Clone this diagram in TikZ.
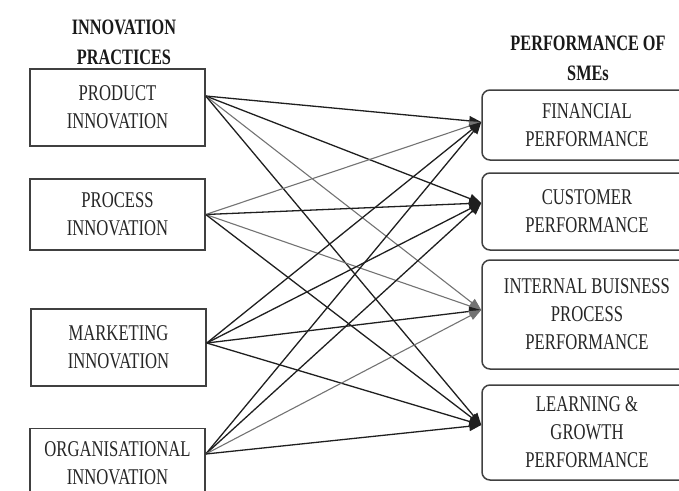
\documentclass[tikz,border=0pt]{standalone}
\usepackage{fontspec}
\setmainfont{Liberation Serif}[FakeStretch=0.74]
\usetikzlibrary{arrows.meta}
\begin{document}
\begin{tikzpicture}[x=1pt,y=-1pt,
  txt/.style={font=\fontsize{22.5}{28}\selectfont, align=center, text=black!85, inner sep=0pt},
  head/.style={font=\fontsize{22}{30}\selectfont\bfseries, align=center, text=black!90, inner sep=0pt},
  lbox/.style={txt, draw=black!75, line width=1.5pt, minimum width=175pt},
  rbox/.style={txt, draw=black!75, line width=1.5pt, rounded corners=8pt, minimum width=210pt},
  link/.style={line width=1.3pt, draw=black!88, -{Triangle[length=12pt,width=9.5pt]}},
  glink/.style={line width=1.1pt, draw=black!55, -{Triangle[length=12pt,width=9.5pt]}}
]
\useasboundingbox (0,0) rectangle (679,490);
% headings
\node[head] (h1) at (124,42) {INNOVATION\\PRACTICES};
\node[head] (h2) at (588,58) {PERFORMANCE OF\\SMEs};
% left boxes
\node[lbox, minimum height=77pt] (a1) at (117.5,107.5) {PRODUCT\\INNOVATION};
\node[lbox, minimum height=71pt] (a2) at (117.5,214.5) {PROCESS\\INNOVATION};
\node[lbox, minimum height=77pt] (a3) at (118.5,347.5) {MARKETING\\INNOVATION};
\node[lbox, minimum height=70pt] (a4) at (117.5,463.5) {ORGANISATIONAL\\INNOVATION};
% right boxes
\node[rbox, minimum height=70pt] (b1) at (587,125) {FINANCIAL\\PERFORMANCE};
\node[rbox, minimum height=77pt] (b2) at (587,211.5) {CUSTOMER\\PERFORMANCE};
\node[rbox, minimum height=109pt] (b3) at (587,314.5) {INTERNAL BUISNESS\\PROCESS\\PERFORMANCE};
\node[rbox, minimum height=95pt] (b4) at (587,432.5) {LEARNING \&\\GROWTH\\PERFORMANCE};
% connection points
\coordinate (s1) at ([yshift=11.5pt]a1.east);
\coordinate (s2) at (a2.east);
\coordinate (s3) at ([yshift=4.5pt]a3.east);
\coordinate (s4) at ([yshift=9.5pt]a4.east);
\coordinate (t1) at ([yshift=3pt]b1.west);
\coordinate (t2) at ([yshift=8.5pt]b2.west);
\coordinate (t3) at ([yshift=4.5pt]b3.west);
\coordinate (t4) at ([yshift=7.5pt]b4.west);
% connectors
\draw[link] (s1) -- (t1);
\draw[link] (s1) -- (t2);
\draw[glink] (s1) -- (t3);
\draw[link] (s1) -- (t4);
\draw[glink] (s2) -- (t1);
\draw[link] (s2) -- (t2);
\draw[glink] (s2) -- (t3);
\draw[link] (s2) -- (t4);
\draw[link] (s3) -- (t1);
\draw[link] (s3) -- (t2);
\draw[link] (s3) -- (t3);
\draw[link] (s3) -- (t4);
\draw[link] (s4) -- (t1);
\draw[link] (s4) -- (t2);
\draw[glink] (s4) -- (t3);
\draw[link] (s4) -- (t4);
\end{tikzpicture}
\end{document}
